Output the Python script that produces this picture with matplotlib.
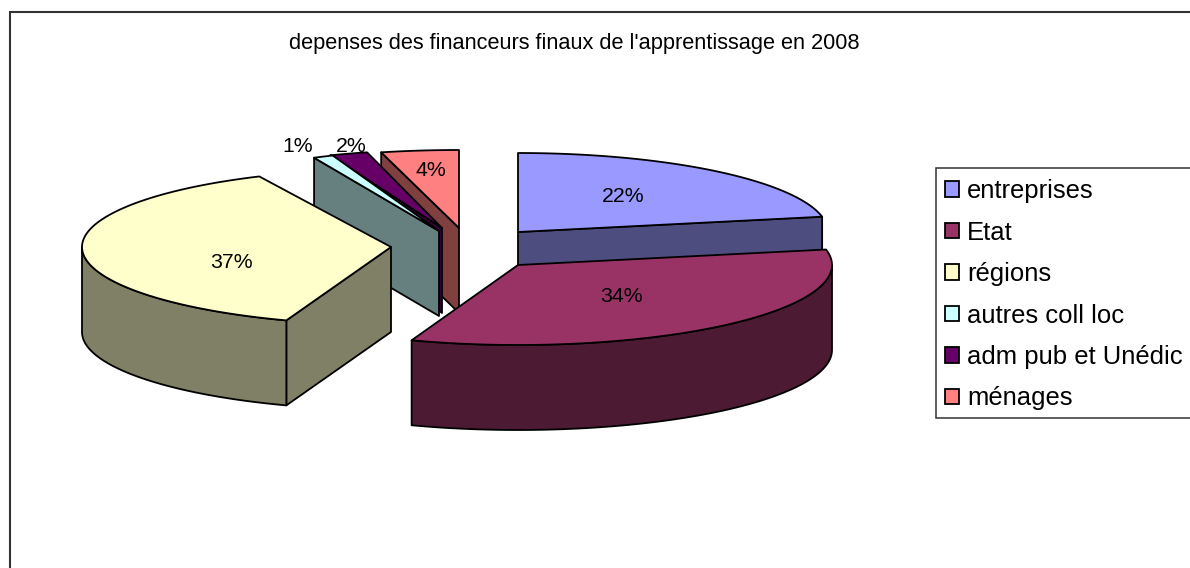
import numpy as np
import matplotlib
matplotlib.use("Agg")
import matplotlib.pyplot as plt
from matplotlib.patches import Patch, Rectangle

plt.rcParams['font.family'] = ['Liberation Sans', 'DejaVu Sans']

# data
title = "depenses des financeurs finaux de l'apprentissage en 2008"
categories = ['entreprises', 'Etat', 'régions', 'autres coll loc', 'adm pub et Unédic', 'ménages']
values = [21.9, 33.6, 37.49, 1.1, 2.0, 3.91]

# style
top_colors = ['#9999FF', '#993366', '#FFFFCC', '#CCFFFF', '#660066', '#FF8080']
side_colors = ['#4D4D80', '#4D1A33', '#808066', '#668080', '#330033', '#804040']
# apex of each exploded slice, pixels
apex_x = [518, 518, 391, 439, 442, 459]
apex_y = [232, 265, 247, 231, 228, 228]
radius_x = [310, 314, 309, 293, 308, 320]
radius_y = [79, 80, 78, 81, 78, 78]
depth = 85
label_x = [623, 621, 231, 298, 351, 431]
label_y = [196, 296, 262, 146, 146, 171]
draw_order = [5, 4, 3, 2, 0, 1]

fig = plt.figure(figsize=(11.9, 5.68), dpi=100)
ax = fig.add_axes([0, 0, 1, 1])
ax.set_xlim(0, 1190)
ax.set_ylim(568, 0)
ax.axis('off')

# chart frame
ax.plot([9.5, 9.5, 1195], [575, 11.5, 11.5], color='#333333', lw=1.5, zorder=1, solid_joinstyle='miter')

total = sum(values)
edges = np.concatenate([[0], np.cumsum(values)]) / total * 360.0
LW = 1.3


def arc(i, a0, a1):
    t = np.radians(np.linspace(a0, a1, 90))
    return apex_x[i] + radius_x[i] * np.sin(t), apex_y[i] - radius_y[i] * np.cos(t)


z = 2
for i in draw_order:
    a0, a1 = edges[i], edges[i + 1]
    cx, cy = apex_x[i], apex_y[i]
    # cut faces that look towards the viewer
    for ang, visible in ((a0, 180 < a0 < 360), (a1, 0 < a1 < 180)):
        if visible:
            px, py = arc(i, ang, ang)
            px, py = px[0], py[0]
            ax.fill([cx, px, px, cx], [cy, py, py + depth, cy + depth],
                    facecolor=side_colors[i], edgecolor='black', lw=LW, zorder=z, joinstyle='round')
            z += 1
    # rim
    w0, w1 = max(a0, 90), min(a1, 270)
    if w1 > w0:
        x, y = arc(i, w0, w1)
        ax.fill(np.r_[x, x[::-1]], np.r_[y, y[::-1] + depth],
                facecolor=side_colors[i], edgecolor='black', lw=LW, zorder=z, joinstyle='round')
        z += 1
    # top
    x, y = arc(i, a0, a1)
    ax.fill(np.r_[cx, x], np.r_[cy, y], facecolor=top_colors[i], edgecolor='black',
            lw=LW, zorder=z, joinstyle='round')
    z += 1

for i, v in enumerate(values):
    ax.text(label_x[i], label_y[i], f"{round(v)}%", fontsize=15.3, ha='center', va='center',
            color='black', zorder=100)

ax.text(574, 43, title, fontsize=15.65, ha='center', va='center', color='black', zorder=100)

ax.add_patch(Rectangle((935.5, 167.5), 300, 250, facecolor='white', edgecolor='#333333', lw=1.1, zorder=90))
handles = [Patch(facecolor=c, edgecolor='black', lw=1.3) for c in top_colors]
leg = ax.legend(handles, categories, loc='upper left', bbox_to_anchor=(934.5, 168.5),
                bbox_transform=ax.transData, borderaxespad=0, fontsize=18.45, frameon=False,
                labelspacing=0.68, handlelength=0.55, handleheight=0.55, handletextpad=0.3,
                borderpad=0.42)
leg.set_zorder(100)

fig.savefig('out.png', dpi=100)
